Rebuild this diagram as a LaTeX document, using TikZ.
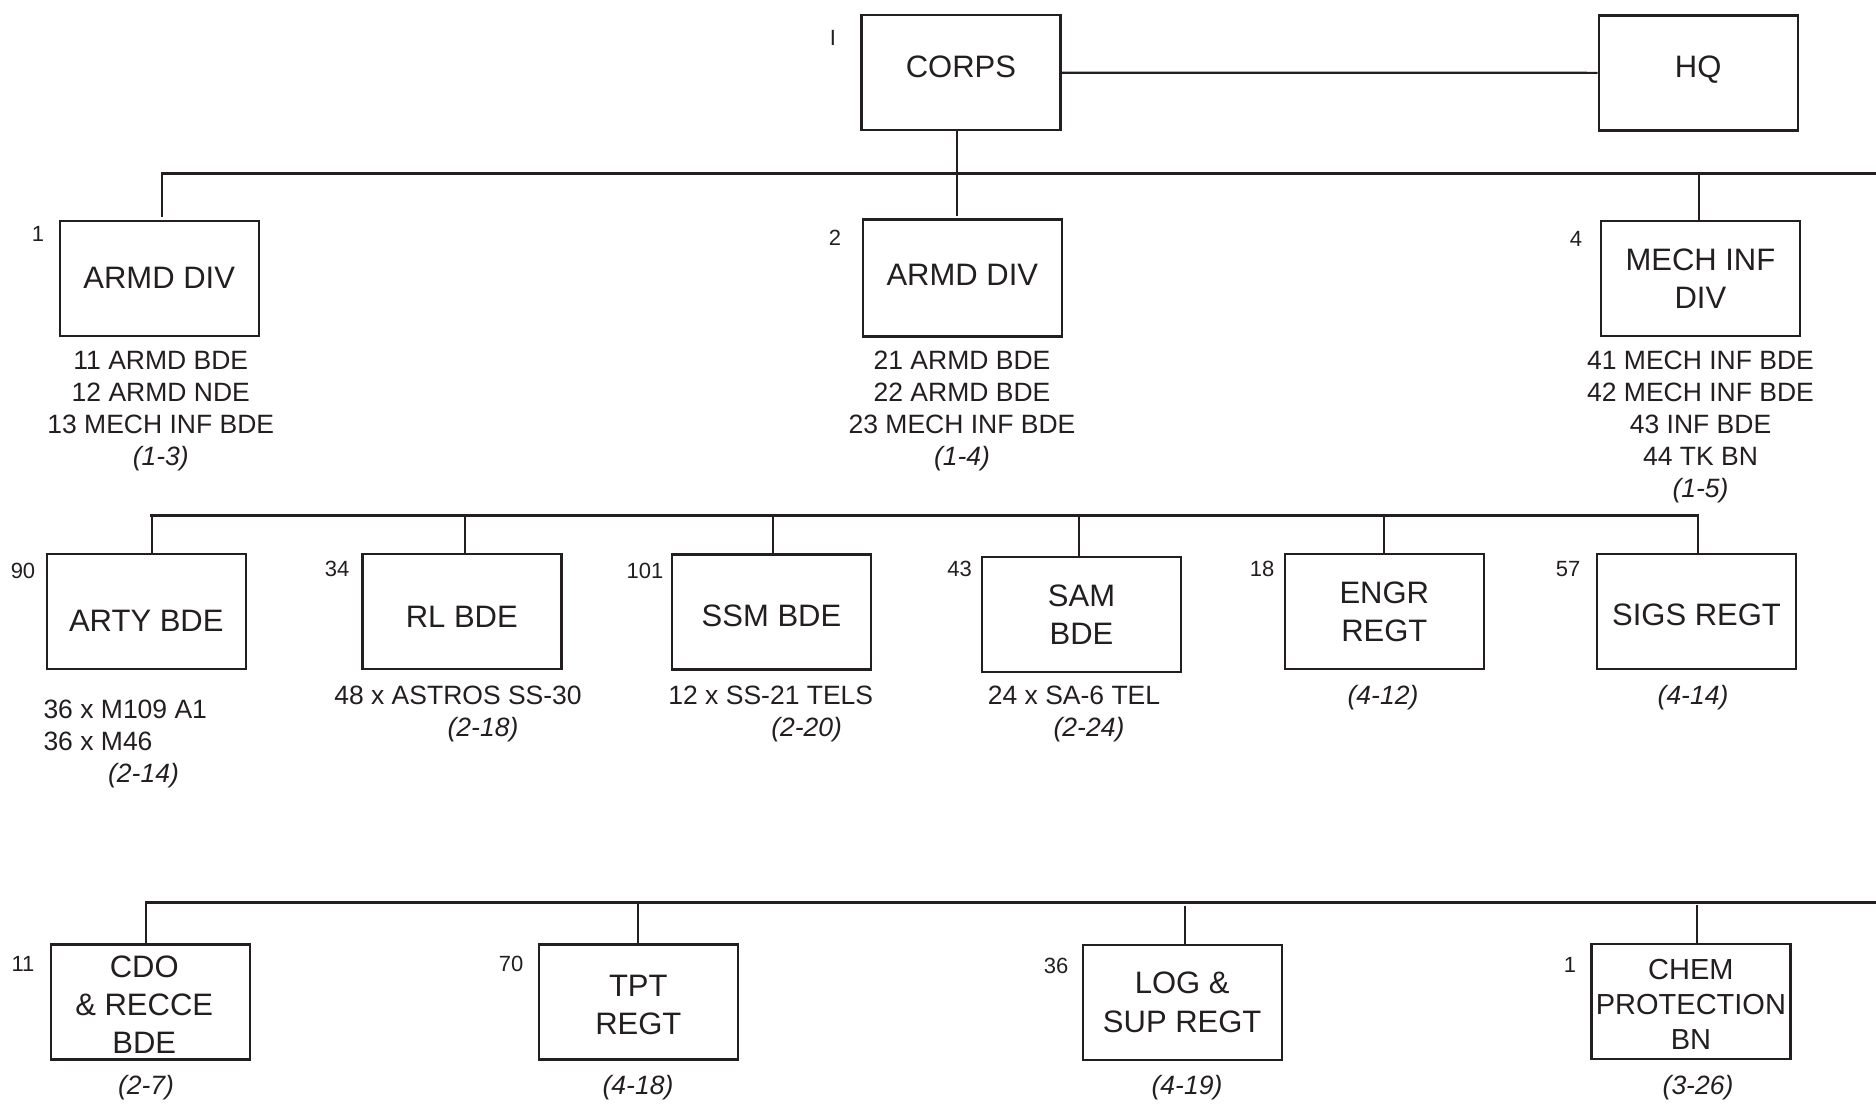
\documentclass[tikz,border=0pt]{standalone}
\usepackage{fontspec}
\setmainfont{Liberation Sans}
\definecolor{ink}{HTML}{231F20}
\begin{document}
\begin{tikzpicture}[x=1pt,y=-1pt,
  box/.style={draw=ink, line width=2.4pt, minimum width=199pt, minimum height=115pt,
    inner sep=0pt, align=center, text=ink, font=\fontsize{31}{38}\selectfont},
  basey/.style={text height=#1, text depth=0pt},
  lbl/.style={text=ink, inner sep=0pt, font=\fontsize{22}{22}\selectfont},
  sub/.style={text=ink, inner sep=0pt, align=center, font=\fontsize{26.5}{32}\selectfont},
  subit/.style={text=ink, inner sep=0pt, font=\fontsize{26.5}{32}\selectfont\itshape},
  bus/.style={draw=ink, line width=2.6pt, line cap=rect},
  vert/.style={draw=ink, line width=2.1pt}]
\useasboundingbox[fill=white] (0,0) rectangle (1876,1103);

% ---- boxes ----
\node[box, basey=10.2pt] (corps) at (960.9,72.7) {CORPS};
\node[box, basey=10pt] (hq) at (1698.2,72.8) {HQ};

\node[box, basey=20pt] (armd1) at (159.2,278.4) {ARMD DIV};
\node[box, basey=14pt, minimum height=117pt] (armd2) at (962.3,278) {ARMD DIV};
\node[box] (mech) at (1700.4,278.5) {MECH INF\\DIV};

\node[box, basey=40pt] (arty) at (146.3,611.7) {ARTY BDE};
\node[box, basey=31pt] (rl) at (461.8,611.7) {RL BDE};
\node[box, basey=30pt] (ssm) at (771.5,611.8) {SSM BDE};
\node[box] (sam) at (1081.5,614.5) {SAM\\BDE};
\node[box] (engr) at (1384.3,611.7) {ENGR\\REGT};
\node[box, basey=27pt] (sigs) at (1696.5,611.7) {SIGS REGT};

\node[box] (cdo) at (150.2,1002) {\rule{0pt}{27pt}CDO\rule{12pt}{0pt}\\\& RECCE\rule{12pt}{0pt}\\BDE\rule{12pt}{0pt}};
\node[box] (tpt) at (638.3,1002) {\rule{0pt}{27pt}TPT\\REGT};
\node[box, font=\fontsize{31}{39.4}\selectfont] (log) at (1182.2,1002.5) {LOG \&\\SUP REGT};
\node[box, font=\fontsize{29}{35}\selectfont] (chem) at (1690.9,1001.6) {\rule{0pt}{25pt}CHEM\\PROTECTION\\BN};

% ---- number labels ----
\node[lbl] (nI) at (833,38) {I};
\node[lbl] (n1) at (38,234) {1};
\node[lbl] (n2) at (835,238) {2};
\node[lbl] (n4) at (1576,239) {4};
\node[lbl] (n90) at (23,571) {90};
\node[lbl] (n34) at (337,569) {34};
\node[lbl] (n101) at (645,570.5) {101};
\node[lbl] (n43) at (959.5,569) {43};
\node[lbl] (n18) at (1262,569) {18};
\node[lbl] (n57) at (1568,569) {57};
\node[lbl] (n11) at (23,964) {11};
\node[lbl] (n70) at (511,964) {70};
\node[lbl] (n36) at (1056,965.5) {36};
\node[lbl] (nc1) at (1570,965) {1};

% ---- texts under row 1 ----
\node[sub, anchor=north] (t1) at (160.8,350.7) {11 ARMD BDE\\12 ARMD NDE\\13 MECH INF BDE\\{\itshape (1-3)}};
\node[sub, anchor=north] (t2) at (962,350.7) {21 ARMD BDE\\22 ARMD BDE\\23 MECH INF BDE\\{\itshape (1-4)}};
\node[sub, anchor=north] (t4) at (1700.5,350.4) {41 MECH INF BDE\\42 MECH INF BDE\\43 INF BDE\\44 TK BN\\{\itshape (1-5)}};

% ---- texts under row 2 ----
\node[sub, anchor=base west] (ta1) at (43.3,718) {36 x M109 A1};
\node[sub, anchor=base west] (ta2) at (43.3,750) {36 x M46};
\node[subit, anchor=base] (ta3) at (143.5,782) {(2-14)};
\node[sub, anchor=base] (tr1) at (458,704) {48 x ASTROS SS-30};
\node[subit, anchor=base] (tr2) at (483,736.5) {(2-18)};
\node[sub, anchor=base] (ts1) at (770.8,704) {12 x SS-21 TELS};
\node[subit, anchor=base] (ts2) at (806.7,736.7) {(2-20)};
\node[sub, anchor=base] (tm1) at (1074,704) {24 x SA-6 TEL};
\node[subit, anchor=base] (tm2) at (1089,736.7) {(2-24)};
\node[subit, anchor=base] (te1) at (1383,704) {(4-12)};
\node[subit, anchor=base] (tg1) at (1693,704) {(4-14)};

% ---- texts under row 3 ----
\node[subit, anchor=base] (tc1) at (146,1094.5) {(2-7)};
\node[subit, anchor=base] (tt1) at (638,1094.5) {(4-18)};
\node[subit, anchor=base] (tl1) at (1187,1094) {(4-19)};
\node[subit, anchor=base] (th1) at (1698,1094) {(3-26)};

% ---- connectors ----
\draw[vert] (corps.east) -- (hq.west);

\coordinate (b1L) at (162,173.7);
\coordinate (b1c) at (957,173.7);
\coordinate (b1m) at (1699,173.7);
\coordinate (b1R) at (1880,173.7);
\draw[bus] (b1L) -- (b1R);
\draw[vert, shorten >=3pt] (b1L) -- (b1L |- armd1.north);
\draw[vert, shorten >=2pt] (b1c |- corps.south) -- (b1c |- armd2.north);
\draw[vert] (b1m) -- (b1m |- mech.north);

\coordinate (b2a) at (151.7,515.5);
\coordinate (b2b) at (465.4,515.5);
\coordinate (b2c) at (773,515.5);
\coordinate (b2d) at (1079,515.5);
\coordinate (b2e) at (1384.2,515.5);
\coordinate (b2f) at (1697.7,515.5);
\draw[bus] (b2a) -- (b2f);
\draw[vert] (b2a) -- (b2a |- arty.north);
\draw[vert] (b2b) -- (b2b |- rl.north);
\draw[vert] (b2c) -- (b2c |- ssm.north);
\draw[vert] (b2d) -- (b2d |- sam.north);
\draw[vert] (b2e) -- (b2e |- engr.north);
\draw[vert] (b2f) -- (b2f |- sigs.north);

\coordinate (b3a) at (146,902.3);
\coordinate (b3b) at (638,902.3);
\coordinate (b3c) at (1185.3,902.3);
\coordinate (b3d) at (1697,902.3);
\coordinate (b3R) at (1880,902.3);
\draw[bus] (b3a) -- (b3R);
\draw[vert] (b3a) -- (b3a |- cdo.north);
\draw[vert] (b3b) -- (b3b |- tpt.north);
\draw[vert, shorten <=4pt] (b3c) -- (b3c |- log.north);
\draw[vert, shorten <=3pt] (b3d) -- (b3d |- chem.north);
\end{tikzpicture}
\end{document}
